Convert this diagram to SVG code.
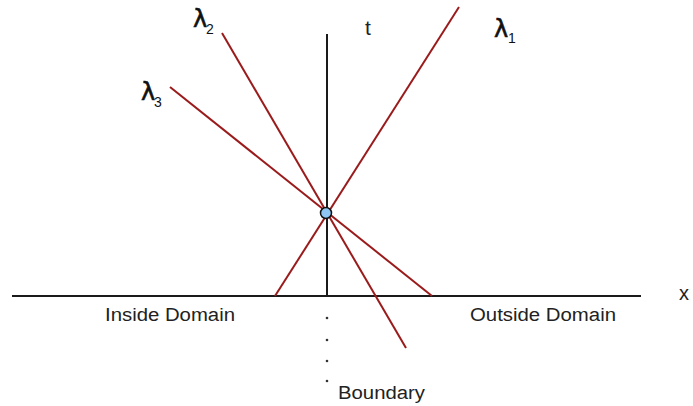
<svg xmlns="http://www.w3.org/2000/svg" width="693" height="406" viewBox="0 0 693 406">
<style>
.axis{stroke:#1a1a1a;stroke-width:2;fill:none}
.char{stroke:#9a1b1b;stroke-width:2;fill:none}
.lbl{font-family:"Liberation Sans",Arial,sans-serif;font-size:18px;fill:#222}
.lam{font-family:"DejaVu Sans","Liberation Sans",sans-serif;font-size:24px;fill:#111;stroke:#111;stroke-width:0.6}
.sub{font-family:"Liberation Sans",Arial,sans-serif;font-size:14px;fill:#111}
.dot{fill:#333}
</style>
<rect width="693" height="406" fill="#fff"/>
<g id="connectors">
<line class="axis" x1="12" y1="296" x2="641" y2="296"/>
<line class="axis" x1="327" y1="34" x2="327" y2="296"/>
<line class="char" x1="275" y1="296" x2="459" y2="7"/>
<line class="char" x1="222" y1="33" x2="406" y2="348"/>
<line class="char" x1="170" y1="87" x2="432" y2="296"/>
</g>
<g id="boundary-dots">
<circle class="dot" cx="327" cy="318" r="1.3"/>
<circle class="dot" cx="327" cy="340" r="1.3"/>
<circle class="dot" cx="327" cy="361" r="1.3"/>
<circle class="dot" cx="327" cy="381" r="1.3"/>
</g>
<g id="point">
<circle cx="326" cy="213" r="5.5" fill="#8ec5f3" stroke="#111" stroke-width="1.5"/>
</g>
<g id="labels">
<text class="lbl" x="365" y="35" style="font-size:21px">t</text>
<text class="lbl" x="679" y="300" style="font-size:20px">x</text>
<text class="lbl" x="105" y="321" textLength="130" lengthAdjust="spacingAndGlyphs">Inside Domain</text>
<text class="lbl" x="470" y="321" textLength="146" lengthAdjust="spacingAndGlyphs">Outside Domain</text>
<text class="lbl" x="338" y="399" textLength="87" lengthAdjust="spacingAndGlyphs">Boundary</text>
</g>
<g id="lambda1"><text class="lam" x="494" y="37">λ</text><text class="sub" x="508" y="43">1</text></g>
<g id="lambda2"><text class="lam" x="193" y="27">λ</text><text class="sub" x="206" y="34">2</text></g>
<g id="lambda3"><text class="lam" x="141" y="100">λ</text><text class="sub" x="154" y="107">3</text></g>
</svg>
